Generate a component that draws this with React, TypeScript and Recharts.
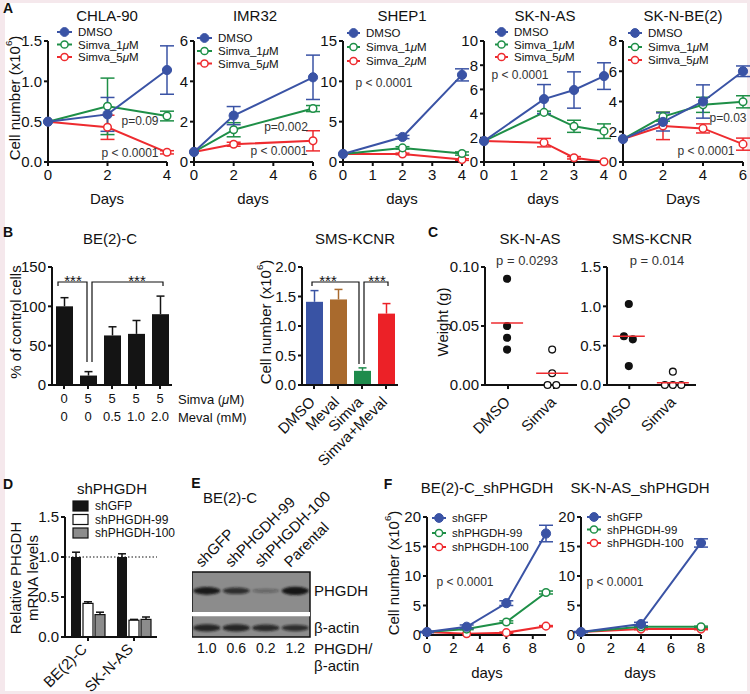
import React from 'react';
import {
  LineChart, Line, BarChart, Bar, ScatterChart, Scatter,
  XAxis, YAxis, ErrorBar, ReferenceLine, ReferenceArea,
} from 'recharts';

const FONT = '"Liberation Sans", Arial, Helvetica, sans-serif';
const INK = '#111';
const BLUE = '#3a53a5';
const GREEN = '#1e8f47';
const RED = '#ee2b2f';
const PTXT = '#333';

// ---------- A: growth curves, cell number (x10^6) ----------
const aNames = ['DMSO', 'Simva_1\u03bcM', 'Simva_5\u03bcM'];
const shepNames = ['DMSO', 'Simva_1\u03bcM', 'Simva_2\u03bcM'];

const chlaDays = [0, 2, 4];
const chlaDmso = [0.5, 0.59, 1.14];
const chlaDmsoErr = [0, 0.21, 0.3];
const chlaS1 = [0.5, 0.69, 0.57];
const chlaS1Err = [0, 0.35, 0.06];
const chlaS5 = [0.5, 0.43, 0.12];
const chlaS5Err = [0, 0.15, 0.02];

const imrDays = [0, 2, 6];
const imrDmso = [0.5, 2.3, 4.2];
const imrDmsoErr = [0, 0.45, 1.1];
const imrS1 = [0.5, 1.6, 2.65];
const imrS1Err = [0, 0.35, 0.15];
const imrS5 = [0.5, 0.88, 1.05];
const imrS5Err = [0, 0.1, 0.5];

const shepDays = [0, 2, 4];
const shepDmso = [1.0, 3.1, 10.8];
const shepDmsoErr = [0, 0.2, 0.75];
const shepS1 = [1.0, 1.75, 1.05];
const shepS1Err = [0, 0.15, 0.2];
const shepS2 = [1.0, 1.0, 0.3];
const shepS2Err = [0, 0.1, 0.1];

const asDays = [0, 2, 3, 4];
const asDmso = [1.73, 5.2, 5.95, 7.1];
const asDmsoErr = [0, 1.2, 1.5, 1.1];
const asS1 = [1.73, 4.1, 2.95, 2.55];
const asS1Err = [0, 0.1, 0.5, 0.6];
const asS5 = [1.73, 1.6, 0.35, 0.02];
const asS5Err = [0, 0.35, 0.1, 0];

const beDays = [0, 2, 4, 6];
const beDmso = [1.52, 2.65, 4.0, 6.0];
const beDmsoErr = [0, 0.6, 1.1, 0.35];
const beS1 = [1.52, 3.0, 3.78, 3.98];
const beS1Err = [0, 0.3, 0.5, 0.4];
const beS5 = [1.52, 2.38, 2.22, 1.18];
const beS5Err = [0, 0.9, 0.3, 0.4];

// ---------- B: mevalonate rescue ----------
const bLeftVals = [100, 12, 63, 65, 90];
const bLeftErr = [11, 5, 11, 17, 23];
const bSimva = ['0', '5', '5', '5', '5'];
const bMeval = ['0', '0', '0.5', '1.0', '2.0'];

const bRightCats = ['DMSO', 'Meval', 'Simva', 'Simva+Meval'];
const bRightVals = [1.41, 1.45, 0.24, 1.21];
const bRightErr = [0.19, 0.17, 0.05, 0.17];
const bRightColors = ['#3953a4', '#a96a2d', '#1e8b4c', '#ec2127'];

// ---------- C: xenograft weights ----------
const cCats = ['DMSO', 'Simva'];
const cAsDmsoX = [0.48, 0.48, 0.48, 0.48];
const cAsDmsoY = [0.09, 0.05, 0.04, 0.03];
const cAsSimX = [1.46, 1.46, 1.36, 1.55];
const cAsSimY = [0.03, 0.01, 0, 0];
const cAsMedX = [0.48, 1.46];
const cAsMedY = [0.0525, 0.01];

const cKcDmsoX = [0.49, 0.38, 0.58, 0.49];
const cKcDmsoY = [1.03, 0.62, 0.58, 0.24];
const cKcSimX = [1.48, 1.3, 1.48, 1.67];
const cKcSimY = [0.17, 0, 0, 0];
const cKcMedX = [0.49, 1.48];
const cKcMedY = [0.62, 0.03];

// ---------- D: knockdown qPCR ----------
const dCats = ['BE(2)-C', 'SK-N-AS'];
const dNames = ['shGFP', 'shPHGDH-99', 'shPHGDH-100'];
const dGfp = [1.0, 1.0];
const dGfpErr = [0.06, 0.04];
const d99 = [0.42, 0.21];
const d99Err = [0.02, 0.01];
const d100 = [0.28, 0.22];
const d100Err = [0.03, 0.03];

// ---------- E: western blot ----------
const eLanes = ['shGFP', 'shPHGDH-99', 'shPHGDH-100', 'Parental'];
const eRatio = ['1.0', '0.6', '0.2', '1.2'];
const ePhgdhBand = [1.0, 0.75, 0.25, 1.15];
const eActinBand = [0.9, 0.9, 0.85, 0.75];

// ---------- F: knockdown growth ----------
const fNames = ['shGFP', 'shPHGDH-99', 'shPHGDH-100'];
const fBeDays = [0, 3, 6, 9];
const fBeGfp = [0.5, 1.4, 5.4, 17.2];
const fBeGfpErr = [0.1, 0.3, 0.4, 1.4];
const fBe99 = [0.5, 1.0, 2.2, 7.2];
const fBe99Err = [0, 0.1, 0.2, 0.25];
const fBe100 = [0.5, 0.2, 0.4, 1.5];
const fBe100Err = [0, 0, 0.1, 0.1];
const fAsDays = [0, 4, 8];
const fAsGfp = [0.5, 1.85, 15.6];
const fAsGfpErr = [0.1, 0.3, 0.7];
const fAs99 = [0.5, 1.4, 1.4];
const fAs99Err = [0, 0.1, 0.1];
const fAs100 = [0.5, 1.0, 1.0];
const fAs100Err = [0, 0.1, 0.1];

const COLORS3 = [BLUE, GREEN, RED];

const axisLine = { stroke: INK, strokeWidth: 2 };
const tickStyle = { fill: INK, fontSize: 15, fontFamily: FONT };

type Ser = { vals: number[]; errs: number[] };

function LinePanel({ px, py, pw, ph, days, series, yMax, yTicks, yFmt, xMax, xTicks }: any) {
  const L = 44, T = 10, R = 10, B = 28;
  const data = days.map((d: number, i: number) => {
    const row: any = { day: d };
    series.forEach((s: Ser, k: number) => {
      row['v' + k] = s.vals[i];
      row['e' + k] = s.errs[i];
    });
    return row;
  });
  const order = series.map((_: Ser, k: number) => k).reverse();
  return (
    <div style={{ position: 'absolute', left: px - L, top: py - T }}>
      <LineChart width={L + pw + R} height={T + ph + B} data={data} margin={{ top: T, right: R, left: 0, bottom: 0 }}>
        <XAxis dataKey="day" type="number" domain={[0, xMax]} ticks={xTicks} interval={0} height={B}
          axisLine={axisLine} tickLine={axisLine} tickSize={4} tickMargin={3} tick={tickStyle} />
        <YAxis type="number" domain={[0, yMax]} ticks={yTicks} interval={0} width={L} tickFormatter={yFmt}
          axisLine={axisLine} tickLine={axisLine} tickSize={4} tickMargin={2} tick={tickStyle} />
        {order.map((k: number) => {
          const c = COLORS3[k];
          const open = k > 0;
          return (
            <Line key={k} type="linear" dataKey={'v' + k} stroke={c} strokeWidth={2} isAnimationActive={false}
              dot={{ r: open ? 3.8 : 4.6, fill: open ? '#fff' : c, stroke: c, strokeWidth: open ? 1.5 : 1 }} activeDot={false}>
              <ErrorBar dataKey={'e' + k} width={7} strokeWidth={1.5} stroke={c} direction="y" isAnimationActive={false} />
            </Line>
          );
        })}
      </LineChart>
    </div>
  );
}

function ErrBarShape(props: any) {
  const { x, y, width, height, payload, valKey, errKey, fillColor, errColor, outline } = props;
  const v = payload[valKey];
  const ePx = v > 0 ? (payload[errKey] * height) / v : 0;
  const cx = x + width / 2;
  const top = y - ePx;
  return (
    <g>
      <line x1={cx} x2={cx} y1={y} y2={top} stroke={errColor} strokeWidth={1.5} />
      <line x1={cx - 4} x2={cx + 4} y1={top} y2={top} stroke={errColor} strokeWidth={1.5} />
      <rect x={x} y={y} width={width} height={height} fill={fillColor}
        stroke={outline ? INK : 'none'} strokeWidth={outline ? 1.2 : 0} />
    </g>
  );
}

function RotTick(props: any) {
  const { x, y, payload, fmt, dx = 2, dy = 11 } = props;
  const px = x + dx, py = y + dy;
  const txt = fmt ? fmt(payload.value) : payload.value;
  return (
    <text x={px} y={py} transform={`rotate(-45 ${px} ${py})`} textAnchor="end" fontSize={15} fontFamily={FONT} fill={INK}>
      {txt}
    </text>
  );
}

function TableTick(props: any) {
  const { x, y, payload } = props;
  const i = payload.value;
  return (
    <g fontSize={13} fontFamily={FONT} fill={INK} textAnchor="middle">
      <text x={x} y={y + 11}>{bSimva[i]}</text>
      <text x={x} y={y + 29}>{bMeval[i]}</text>
    </g>
  );
}

function LaneTick(props: any) {
  const { x, y, payload } = props;
  const px = x - 5, py = y - 4;
  return (
    <text x={px} y={py} transform={`rotate(-45 ${px} ${py})`} textAnchor="start" fontSize={15} fontFamily={FONT} fill={INK}>
      {eLanes[Math.floor(payload.value)]}
    </text>
  );
}

const pts = (xs: number[], ys: number[]) => xs.map((x, i) => ({ x, y: ys[i] }));

function DotShape(props: any) {
  const { cx, cy, open } = props;
  return <circle cx={cx} cy={cy} r={3.4} fill={open ? '#fff' : INK} stroke={INK} strokeWidth={1.3} />;
}
function MedShape(props: any) {
  const { cx, cy } = props;
  return <line x1={cx - 16} x2={cx + 16} y1={cy} y2={cy} stroke={RED} strokeWidth={1.5} />;
}

function WeightPanel({ px, pw, yMax, yTicks, yFmt, dmso, sim, med }: any) {
  const L = 50, T = 10, R = 20, B = 60;
  const py = 267, ph = 118;
  return (
    <div style={{ position: 'absolute', left: px - L, top: py - T }}>
      <ScatterChart width={L + pw + R} height={T + ph + B} margin={{ top: T, right: R, left: 0, bottom: 0 }}>
        <XAxis dataKey="x" type="number" domain={[0, 2]} ticks={[0.5, 1.5]} interval={0} height={B}
          axisLine={axisLine} tickLine={axisLine} tickSize={4} tickMargin={3}
          tick={(p: any) => <RotTick {...p} dx={3} dy={11} fmt={(v: number) => cCats[Math.floor(v)]} />} />
        <YAxis dataKey="y" type="number" domain={[0, yMax]} ticks={yTicks} interval={0} width={L} tickFormatter={yFmt}
          axisLine={axisLine} tickLine={axisLine} tickSize={4} tickMargin={2} tick={tickStyle} />
        <Scatter data={dmso} isAnimationActive={false} shape={(p: any) => <DotShape {...p} open={false} />} />
        <Scatter data={sim} isAnimationActive={false} shape={(p: any) => <DotShape {...p} open />} />
        <Scatter data={med} isAnimationActive={false} shape={MedShape} />
      </ScatterChart>
    </div>
  );
}

function BandShape(props: any) {
  const { cx, cy, payload } = props;
  const k = payload.k;
  return (
    <ellipse cx={cx} cy={cy} rx={13.5} ry={1.6 + 2.2 * Math.min(k, 1.2)} fill="#141414"
      fillOpacity={Math.min(1, 0.12 + 0.85 * k)} filter="url(#bandBlur)" />
  );
}

function LegendLines({ x, textX, ys, names }: any) {
  return (
    <g>
      {names.map((n: string, i: number) => {
        const c = COLORS3[i];
        const open = i > 0;
        const mid = (x + textX - 6) / 2;
        return (
          <g key={n}>
            <line x1={x} x2={textX - 6} y1={ys[i]} y2={ys[i]} stroke={c} strokeWidth={2} />
            <circle cx={mid} cy={ys[i]} r={open ? 3.6 : 4.4} fill={open ? '#fff' : c} stroke={c} strokeWidth={open ? 1.5 : 1} />
            <Txt x={textX} y={ys[i]} size={11.5} anchor="start">{n}</Txt>
          </g>
        );
      })}
    </g>
  );
}

function Txt({ x, y, children, size = 15, anchor = 'middle', weight = 400, fill = INK, rot = 0 }: any) {
  const parts = typeof children === 'string' ? children.split('\u03bc') : null;
  return (
    <text x={x} y={y} fontSize={size} textAnchor={anchor} dominantBaseline="central" fontWeight={weight} fill={fill}
      transform={rot ? `rotate(${rot} ${x} ${y})` : undefined}>
      {parts && parts.length > 1
        ? parts.map((p, i) => (
          <React.Fragment key={i}>{i > 0 && <tspan fontStyle="italic">{'\u03bc'}</tspan>}{p}</React.Fragment>
        ))
        : children}
    </text>
  );
}

function CellLabel({ x, y, size = 15 }: any) {
  return (
    <text x={x} y={y} fontSize={size} textAnchor="middle" dominantBaseline="central" fill={INK}
      transform={`rotate(-90 ${x} ${y})`}>
      Cell number (x10<tspan dy={-6} fontSize={size * 0.65}>6</tspan><tspan dy={6}>)</tspan>
    </text>
  );
}

export default function App() {
  const aPanels = [
    { px: 48, pw: 119, days: chlaDays, series: [{ vals: chlaDmso, errs: chlaDmsoErr }, { vals: chlaS1, errs: chlaS1Err }, { vals: chlaS5, errs: chlaS5Err }], yMax: 1.5, yTicks: [0, 0.5, 1, 1.5], yFmt: (v: number) => v.toFixed(1), xMax: 4, xTicks: [0, 2, 4] },
    { px: 194, pw: 119, days: imrDays, series: [{ vals: imrDmso, errs: imrDmsoErr }, { vals: imrS1, errs: imrS1Err }, { vals: imrS5, errs: imrS5Err }], yMax: 6, yTicks: [0, 2, 4, 6], xMax: 6, xTicks: [0, 2, 4, 6] },
    { px: 343, pw: 119, days: shepDays, series: [{ vals: shepDmso, errs: shepDmsoErr }, { vals: shepS1, errs: shepS1Err }, { vals: shepS2, errs: shepS2Err }], yMax: 15, yTicks: [0, 5, 10, 15], xMax: 4, xTicks: [0, 1, 2, 3, 4] },
    { px: 484, pw: 120, days: asDays, series: [{ vals: asDmso, errs: asDmsoErr }, { vals: asS1, errs: asS1Err }, { vals: asS5, errs: asS5Err }], yMax: 10, yTicks: [0, 2, 4, 6, 8, 10], xMax: 4, xTicks: [0, 1, 2, 3, 4] },
    { px: 623, pw: 120, days: beDays, series: [{ vals: beDmso, errs: beDmsoErr }, { vals: beS1, errs: beS1Err }, { vals: beS5, errs: beS5Err }], yMax: 8, yTicks: [0, 2, 4, 6, 8], xMax: 6, xTicks: [0, 2, 4, 6] },
  ];

  const bLeftData = bLeftVals.map((v, i) => ({ i, v, e: bLeftErr[i] }));
  const bRightData = bRightCats.map((name, i) => ({ name, v: bRightVals[i], e: bRightErr[i] }));
  const dData = dCats.map((name, i) => ({ name, g: dGfp[i], ge: dGfpErr[i], a: d99[i], ae: d99Err[i], b: d100[i], be: d100Err[i] }));
  const phgdhRowY = 0.71;
  const actinRowY = 0.14;
  const phgdhBands = ePhgdhBand.map((k, i) => ({ x: i + 0.5, y: phgdhRowY, k }));
  const actinBands = eActinBand.map((k, i) => ({ x: i + 0.5, y: actinRowY, k }));
  const laneTicks = eLanes.map((_, i) => i + 0.5);

  return (
    <div style={{ position: 'absolute', left: 0, top: 0, width: 750, height: 694, background: '#f5e8ec', fontFamily: FONT, overflow: 'hidden' }}>
      <div style={{ position: 'absolute', left: 5, top: 3, width: 742, height: 688, background: '#fff' }} />

      {aPanels.map((p, i) => (
        <LinePanel key={i} py={41} ph={121} {...p} />
      ))}

      {/* B left */}
      <div style={{ position: 'absolute', left: 52 - 44, top: 267 - 10 }}>
        <BarChart width={44 + 120 + 10} height={10 + 118 + 45} data={bLeftData} margin={{ top: 10, right: 10, left: 0, bottom: 0 }}>
          <XAxis dataKey="i" height={45} axisLine={axisLine} tickLine={axisLine} tickSize={4} tickMargin={3} interval={0} tick={<TableTick />} />
          <YAxis domain={[0, 150]} ticks={[0, 50, 100, 150]} interval={0} width={44} axisLine={axisLine} tickLine={axisLine} tickSize={4} tickMargin={2} tick={tickStyle} />
          <Bar dataKey="v" barSize={17} isAnimationActive={false}
            shape={(p: any) => <ErrBarShape {...p} valKey="v" errKey="e" fillColor="#141414" errColor="#141414" />} />
        </BarChart>
      </div>

      {/* B right */}
      <div style={{ position: 'absolute', left: 302 - 60, top: 267 - 10 }}>
        <BarChart width={60 + 96 + 12} height={10 + 118 + 95} data={bRightData} margin={{ top: 10, right: 12, left: 16, bottom: 0 }}>
          <XAxis dataKey="name" height={95} axisLine={axisLine} tickLine={axisLine} tickSize={4} tickMargin={3} interval={0}
            tick={(p: any) => <RotTick {...p} dx={2} dy={11} />} />
          <YAxis domain={[0, 2]} ticks={[0, 0.5, 1, 1.5, 2]} interval={0} width={44} tickFormatter={(v: number) => v.toFixed(1)}
            axisLine={axisLine} tickLine={axisLine} tickSize={4} tickMargin={2} tick={tickStyle} />
          <Bar dataKey="v" barSize={17} isAnimationActive={false}
            shape={(p: any) => <ErrBarShape {...p} valKey="v" errKey="e" fillColor={bRightColors[p.index]} errColor={bRightColors[p.index]} />} />
        </BarChart>
      </div>

      {/* C */}
      <WeightPanel px={485} pw={92} yMax={0.1} yTicks={[0, 0.05, 0.1]} yFmt={(v: number) => v.toFixed(2)}
        dmso={pts(cAsDmsoX, cAsDmsoY)} sim={pts(cAsSimX, cAsSimY)} med={pts(cAsMedX, cAsMedY)} />
      <WeightPanel px={607} pw={89} yMax={1.5} yTicks={[0, 0.5, 1, 1.5]} yFmt={(v: number) => v.toFixed(1)}
        dmso={pts(cKcDmsoX, cKcDmsoY)} sim={pts(cKcSimX, cKcSimY)} med={pts(cKcMedX, cKcMedY)} />

      {/* D */}
      <div style={{ position: 'absolute', left: 65 - 44, top: 517 - 10 }}>
        <BarChart width={44 + 92 + 10} height={10 + 120 + 66} data={dData} margin={{ top: 10, right: 10, left: 0, bottom: 0 }} barGap={2}>
          <XAxis dataKey="name" height={66} axisLine={axisLine} tickLine={axisLine} tickSize={4} tickMargin={3} interval={0}
            tick={(p: any) => <RotTick {...p} dx={0} dy={6} />} />
          <YAxis domain={[0, 1.5]} ticks={[0, 0.5, 1, 1.5]} interval={0} width={44} tickFormatter={(v: number) => v.toFixed(1)}
            axisLine={axisLine} tickLine={axisLine} tickSize={4} tickMargin={2} tick={tickStyle} />
          <ReferenceLine y={1} stroke={INK} strokeWidth={1} strokeDasharray="1.5 2" />
          <Bar dataKey="g" barSize={10} isAnimationActive={false}
            shape={(p: any) => <ErrBarShape {...p} valKey="g" errKey="ge" fillColor="#141414" errColor={INK} />} />
          <Bar dataKey="a" barSize={10} isAnimationActive={false}
            shape={(p: any) => <ErrBarShape {...p} valKey="a" errKey="ae" fillColor="#fff" errColor={INK} outline />} />
          <Bar dataKey="b" barSize={10} isAnimationActive={false}
            shape={(p: any) => <ErrBarShape {...p} valKey="b" errKey="be" fillColor="#8c8c8c" errColor={INK} outline />} />
        </BarChart>
      </div>

      {/* E: blot */}
      <div style={{ position: 'absolute', left: 192, top: 572 - 85 }}>
        <ScatterChart width={118 + 45} height={85 + 65 + 25} margin={{ top: 0, right: 45, left: 0, bottom: 0 }}>
          <defs>
            <filter id="bandBlur" x="-30%" y="-100%" width="160%" height="300%">
              <feGaussianBlur stdDeviation="0.9" />
            </filter>
          </defs>
          <XAxis xAxisId="top" orientation="top" type="number" dataKey="x" domain={[0, 4]} ticks={laneTicks} interval={0}
            height={85} axisLine={false} tickLine={false} tickSize={0} tickMargin={0} tick={<LaneTick />} />
          <XAxis xAxisId="bot" orientation="bottom" type="number" dataKey="x" domain={[0, 4]} ticks={laneTicks} interval={0}
            height={25} axisLine={false} tickLine={false} tickSize={0} tickMargin={6}
            tickFormatter={(v: number) => eRatio[Math.floor(v)]} tick={{ fill: INK, fontSize: 14, fontFamily: FONT }} />
          <YAxis type="number" dataKey="y" domain={[0, 1]} hide />
          <ReferenceArea xAxisId="bot" x1={0} x2={4} y1={0} y2={1} fill="#8c8c8c" fillOpacity={1} stroke={INK} strokeWidth={1.5} />
          <ReferenceArea xAxisId="bot" x1={0} x2={4} y1={0.32} y2={0.385} fill="#fff" fillOpacity={1} stroke="none" />
          <Scatter xAxisId="top" data={phgdhBands} isAnimationActive={false} shape={BandShape} />
          <Scatter xAxisId="bot" data={actinBands} isAnimationActive={false} shape={BandShape} />
        </ScatterChart>
      </div>

      {/* F */}
      <LinePanel px={427} pw={119} py={517} ph={118} days={fBeDays}
        series={[{ vals: fBeGfp, errs: fBeGfpErr }, { vals: fBe99, errs: fBe99Err }, { vals: fBe100, errs: fBe100Err }]}
        yMax={20} yTicks={[0, 5, 10, 15, 20]} xMax={9} xTicks={[0, 2, 4, 6, 8]} />
      <LinePanel px={581} pw={120} py={517} ph={118} days={fAsDays}
        series={[{ vals: fAsGfp, errs: fAsGfpErr }, { vals: fAs99, errs: fAs99Err }, { vals: fAs100, errs: fAs100Err }]}
        yMax={20} yTicks={[0, 5, 10, 15, 20]} xMax={8} xTicks={[0, 2, 4, 6, 8]} />

      {/* text overlay */}
      <svg width={750} height={694} style={{ position: 'absolute', left: 0, top: 0, pointerEvents: 'none' }} fontFamily={FONT}>
        {/* panel letters */}
        <Txt x={8} y={8} size={14} weight={700}>A</Txt>
        <Txt x={8} y={232} size={14} weight={700}>B</Txt>
        <Txt x={433} y={232} size={14} weight={700}>C</Txt>
        <Txt x={8} y={484} size={14} weight={700}>D</Txt>
        <Txt x={196} y={483} size={14} weight={700}>E</Txt>
        <Txt x={388} y={484} size={14} weight={700}>F</Txt>

        {/* A */}
        <Txt x={107} y={15}>CHLA-90</Txt>
        <Txt x={255} y={15}>IMR32</Txt>
        <Txt x={402} y={15}>SHEP1</Txt>
        <Txt x={545} y={15}>SK-N-AS</Txt>
        <Txt x={683} y={15}>SK-N-BE(2)</Txt>
        <Txt x={107} y={198}>Days</Txt>
        <Txt x={253} y={198}>days</Txt>
        <Txt x={402} y={198}>days</Txt>
        <Txt x={543} y={198}>days</Txt>
        <Txt x={683} y={198}>Days</Txt>
        <CellLabel x={14} y={98} />
        <LegendLines x={57} textX={78} ys={[32, 44.5, 57]} names={aNames} />
        <LegendLines x={197} textX={218} ys={[38, 51, 63.5]} names={aNames} />
        <LegendLines x={347} textX={366} ys={[33, 47, 61]} names={shepNames} />
        <LegendLines x={495} textX={514} ys={[32, 44.5, 57]} names={aNames} />
        <LegendLines x={628} textX={648} ys={[33, 47, 60]} names={aNames} />
        <Txt x={140} y={121} size={12} fill={PTXT}>p=0.09</Txt>
        <Txt x={130} y={153} size={12} fill={PTXT}>p {'<'} 0.0001</Txt>
        <Txt x={286} y={127} size={12} fill={PTXT}>p=0.002</Txt>
        <Txt x={279} y={151} size={12} fill={PTXT}>p {'<'} 0.0001</Txt>
        <Txt x={384} y={83} size={12} fill={PTXT}>p {'<'} 0.0001</Txt>
        <Txt x={520} y={75} size={12} fill={PTXT}>p {'<'} 0.0001</Txt>
        <Txt x={728} y={118} size={12} fill={PTXT}>p=0.03</Txt>
        <Txt x={706} y={151} size={12} fill={PTXT}>p {'<'} 0.0001</Txt>

        {/* B */}
        <Txt x={110} y={238}>BE(2)-C</Txt>
        <Txt x={355} y={238}>SMS-KCNR</Txt>
        <Txt x={15} y={322} rot={-90}>% of control cells</Txt>
        <CellLabel x={265} y={322} />
        <Txt x={178} y={399} size={13} anchor="start">{'Simva (\u03bcM)'}</Txt>
        <Txt x={178} y={417} size={13} anchor="start">Meval (mM)</Txt>
        <g stroke={INK} strokeWidth={1.2} fill="none">
          <polyline points="58,286 58,282 87,282 87,362" />
          <polyline points="92,362 92,282 163,282 163,286" />
          <polyline points="312,286 312,282 359,282 359,364" />
          <polyline points="364,364 364,282 388,282 388,286" />
        </g>
        <text x={73} y={286} fontSize={15} textAnchor="middle" fill={INK}>***</text>
        <text x={137} y={286} fontSize={15} textAnchor="middle" fill={INK}>***</text>
        <text x={328} y={286} fontSize={15} textAnchor="middle" fill={INK}>***</text>
        <text x={377} y={286} fontSize={15} textAnchor="middle" fill={INK}>***</text>

        {/* C */}
        <Txt x={530} y={238}>SK-N-AS</Txt>
        <Txt x={652} y={238}>SMS-KCNR</Txt>
        <Txt x={527} y={260} size={13} fill={PTXT}>p = 0.0293</Txt>
        <Txt x={657} y={260} size={13} fill={PTXT}>p = 0.014</Txt>
        <Txt x={442} y={322} rot={-90}>Weight (g)</Txt>

        {/* D */}
        <Txt x={112} y={488}>shPHGDH</Txt>
        {dNames.map((n, i) => (
          <g key={n}>
            <rect x={73} y={501 + i * 13.5} width={15} height={10}
              fill={i === 0 ? '#141414' : i === 1 ? '#fff' : '#8c8c8c'} stroke={INK} strokeWidth={1.2} />
            <Txt x={95} y={506 + i * 13.5} size={12} anchor="start">{n}</Txt>
          </g>
        ))}
        <Txt x={15} y={578} rot={-90}>Relative PHGDH</Txt>
        <Txt x={32} y={578} rot={-90}>mRNA levels</Txt>

        {/* E */}
        <Txt x={203} y={497} anchor="start">BE(2)-C</Txt>
        <Txt x={314} y={590} anchor="start">PHGDH</Txt>
        <Txt x={314} y={627} anchor="start">{'\u03b2'}-actin</Txt>
        <Txt x={314} y={648} anchor="start">PHGDH/</Txt>
        <Txt x={314} y={665} anchor="start">{'\u03b2'}-actin</Txt>

        {/* F */}
        <Txt x={487} y={487}>BE(2)-C_shPHGDH</Txt>
        <Txt x={640} y={487}>SK-N-AS_shPHGDH</Txt>
        <CellLabel x={393} y={573} />
        <LegendLines x={432} textX={452} ys={[518, 533, 547]} names={fNames} />
        <LegendLines x={587} textX={607} ys={[517, 529.5, 543]} names={fNames} />
        <Txt x={465} y={582} size={12} fill={PTXT}>p {'<'} 0.0001</Txt>
        <Txt x={615} y={582} size={12} fill={PTXT}>p {'<'} 0.0001</Txt>
        <Txt x={487} y={672}>days</Txt>
        <Txt x={640} y={672}>days</Txt>
      </svg>
    </div>
  );
}
